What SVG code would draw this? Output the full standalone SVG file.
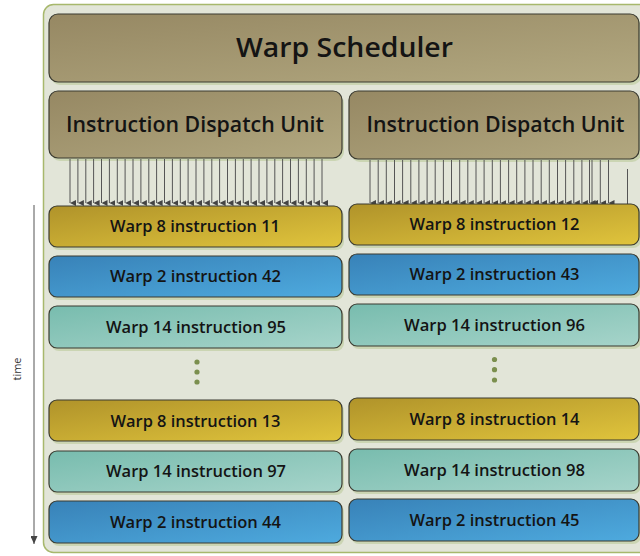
<svg xmlns="http://www.w3.org/2000/svg" width="640" height="556" viewBox="0 0 640 556">
<defs>
<linearGradient id="gBrown" x1="0" y1="0" x2="1" y2="1"><stop offset="0" stop-color="#968863"/><stop offset="1" stop-color="#b2a880"/></linearGradient>
<linearGradient id="gGold" x1="0" y1="0" x2="1" y2="1"><stop offset="0" stop-color="#b0932a"/><stop offset="1" stop-color="#e0c43c"/></linearGradient>
<linearGradient id="gBlue" x1="0" y1="0" x2="1" y2="1"><stop offset="0" stop-color="#3882b8"/><stop offset="1" stop-color="#4eaade"/></linearGradient>
<linearGradient id="gTeal" x1="0" y1="0" x2="1" y2="1"><stop offset="0" stop-color="#78bcae"/><stop offset="1" stop-color="#a6d4ca"/></linearGradient>
<marker id="ah" viewBox="0 0 6 6" refX="3" refY="6" markerWidth="6" markerHeight="6" markerUnits="userSpaceOnUse" orient="auto-start-reverse">
<path d="M0,0 L6,0 L3,6 Z" fill="#444"/>
</marker>
<marker id="ahOlive" viewBox="0 0 6 8" refX="3" refY="8" markerWidth="6" markerHeight="8" markerUnits="userSpaceOnUse">
<path d="M0,0 L6,0 L3,8 Z" fill="#a09030"/>
</marker>
<marker id="ahTime" viewBox="0 0 7 8" refX="3.5" refY="8" markerWidth="7" markerHeight="8" markerUnits="userSpaceOnUse">
<path d="M0,0 L7,0 L3.5,8 Z" fill="#444"/>
</marker>
</defs>
<style>
.box{stroke:#3a3a30;stroke-width:1.2}
.sh{fill:#b8c896;opacity:0.55}
.t{font-family:"Open Sans",Lato,"DejaVu Sans",sans-serif;font-weight:600;fill:#141414;text-anchor:middle}
.row{font-size:16.5px}
.idu{font-size:21px}
.dot{fill:#7b8f4e}
.arr line{stroke:#555;stroke-width:1}
</style>
<rect x="43.5" y="4.5" width="610" height="548" rx="10" fill="#e2e5d8" stroke="#a7b86c" stroke-width="1.5"/>

<g id="warp-scheduler">
<rect class="sh" x="51" y="17" width="590" height="68" rx="9"/>
<rect class="box" x="49" y="14" width="590" height="68" rx="9" fill="url(#gBrown)"/>
<text class="t" x="344.5" y="56.5" font-size="26.5" font-weight="700" textLength="217" lengthAdjust="spacingAndGlyphs">Warp Scheduler</text>
</g>

<g id="idu-left">
<rect class="sh" x="51" y="94" width="293" height="67" rx="9"/>
<rect class="box" x="49" y="91" width="293" height="67" rx="9" fill="url(#gBrown)"/>
<text class="t idu" x="195" y="132" textLength="258" lengthAdjust="spacingAndGlyphs">Instruction Dispatch Unit</text>
</g>
<g id="idu-right">
<rect class="sh" x="351" y="94" width="290" height="68" rx="9"/>
<rect class="box" x="349" y="91" width="290" height="68" rx="9" fill="url(#gBrown)"/>
<text class="t idu" x="495.5" y="132" textLength="258" lengthAdjust="spacingAndGlyphs">Instruction Dispatch Unit</text>
</g>

<g id="connectors" class="arr">
<line x1="70" y1="159" x2="70" y2="203" marker-end="url(#ah)"/>
<line x1="77.9" y1="159" x2="77.9" y2="203" marker-end="url(#ah)"/>
<line x1="85.8" y1="159" x2="85.8" y2="203" marker-end="url(#ah)"/>
<line x1="93.6" y1="159" x2="93.6" y2="203" marker-end="url(#ah)"/>
<line x1="101.5" y1="159" x2="101.5" y2="203" marker-end="url(#ah)"/>
<line x1="109.4" y1="159" x2="109.4" y2="203" marker-end="url(#ah)"/>
<line x1="117.3" y1="159" x2="117.3" y2="203" marker-end="url(#ah)"/>
<line x1="125.1" y1="159" x2="125.1" y2="203" marker-end="url(#ah)"/>
<line x1="133" y1="159" x2="133" y2="203" marker-end="url(#ah)"/>
<line x1="140.9" y1="159" x2="140.9" y2="203" marker-end="url(#ah)"/>
<line x1="148.8" y1="159" x2="148.8" y2="203" marker-end="url(#ah)"/>
<line x1="156.6" y1="159" x2="156.6" y2="203" marker-end="url(#ah)"/>
<line x1="164.5" y1="159" x2="164.5" y2="203" marker-end="url(#ah)"/>
<line x1="172.4" y1="159" x2="172.4" y2="203" marker-end="url(#ah)"/>
<line x1="180.3" y1="159" x2="180.3" y2="203" marker-end="url(#ah)"/>
<line x1="188.1" y1="159" x2="188.1" y2="203" marker-end="url(#ah)"/>
<line x1="196" y1="159" x2="196" y2="203" marker-end="url(#ah)"/>
<line x1="203.9" y1="159" x2="203.9" y2="203" marker-end="url(#ah)"/>
<line x1="211.8" y1="159" x2="211.8" y2="203" marker-end="url(#ah)"/>
<line x1="219.6" y1="159" x2="219.6" y2="203" marker-end="url(#ah)"/>
<line x1="227.5" y1="159" x2="227.5" y2="203" marker-end="url(#ah)"/>
<line x1="235.4" y1="159" x2="235.4" y2="203" marker-end="url(#ah)"/>
<line x1="243.3" y1="159" x2="243.3" y2="203" marker-end="url(#ah)"/>
<line x1="251.1" y1="159" x2="251.1" y2="203" marker-end="url(#ah)"/>
<line x1="259" y1="159" x2="259" y2="203" marker-end="url(#ah)"/>
<line x1="266.9" y1="159" x2="266.9" y2="203" marker-end="url(#ah)"/>
<line x1="274.8" y1="159" x2="274.8" y2="203" marker-end="url(#ah)"/>
<line x1="282.6" y1="159" x2="282.6" y2="203" marker-end="url(#ah)"/>
<line x1="290.5" y1="159" x2="290.5" y2="203" marker-end="url(#ah)"/>
<line x1="298.4" y1="159" x2="298.4" y2="203" marker-end="url(#ah)"/>
<line x1="306.3" y1="159" x2="306.3" y2="203" marker-end="url(#ah)"/>
<line x1="314.1" y1="159" x2="314.1" y2="203" marker-end="url(#ah)"/>
<line x1="322" y1="159" x2="322" y2="203" marker-end="url(#ah)"/>

<line x1="370" y1="160" x2="370" y2="203" marker-end="url(#ah)"/>
<line x1="378.2" y1="160" x2="378.2" y2="203" marker-end="url(#ah)"/>
<line x1="386.3" y1="160" x2="386.3" y2="203" marker-end="url(#ah)"/>
<line x1="394.5" y1="160" x2="394.5" y2="203" marker-end="url(#ah)"/>
<line x1="402.6" y1="160" x2="402.6" y2="203" marker-end="url(#ah)"/>
<line x1="410.8" y1="160" x2="410.8" y2="203" marker-end="url(#ah)"/>
<line x1="418.9" y1="160" x2="418.9" y2="203" marker-end="url(#ah)"/>
<line x1="427.1" y1="160" x2="427.1" y2="203" marker-end="url(#ah)"/>
<line x1="435.2" y1="160" x2="435.2" y2="203" marker-end="url(#ah)"/>
<line x1="443.4" y1="160" x2="443.4" y2="203" marker-end="url(#ah)"/>
<line x1="451.5" y1="160" x2="451.5" y2="203" marker-end="url(#ah)"/>
<line x1="459.7" y1="160" x2="459.7" y2="203" marker-end="url(#ah)"/>
<line x1="467.8" y1="160" x2="467.8" y2="203" marker-end="url(#ah)"/>
<line x1="476" y1="160" x2="476" y2="203" marker-end="url(#ah)"/>
<line x1="484.1" y1="160" x2="484.1" y2="203" marker-end="url(#ah)"/>
<line x1="492.3" y1="160" x2="492.3" y2="203" marker-end="url(#ah)"/>
<line x1="500.4" y1="160" x2="500.4" y2="203" marker-end="url(#ah)"/>
<line x1="508.6" y1="160" x2="508.6" y2="203" marker-end="url(#ah)"/>
<line x1="516.7" y1="160" x2="516.7" y2="203" marker-end="url(#ah)"/>
<line x1="524.9" y1="160" x2="524.9" y2="203" marker-end="url(#ah)"/>
<line x1="533" y1="160" x2="533" y2="203" marker-end="url(#ah)"/>
<line x1="541.2" y1="160" x2="541.2" y2="203" marker-end="url(#ah)"/>
<line x1="549.3" y1="160" x2="549.3" y2="203" marker-end="url(#ah)"/>
<line x1="557.5" y1="160" x2="557.5" y2="203" marker-end="url(#ah)"/>
<line x1="565.6" y1="160" x2="565.6" y2="203" marker-end="url(#ah)"/>
<line x1="573.8" y1="160" x2="573.8" y2="203" marker-end="url(#ah)"/>
<line x1="581.9" y1="160" x2="581.9" y2="203" marker-end="url(#ah)"/>
<line x1="589.5" y1="160" x2="589.5" y2="203" marker-end="url(#ah)"/>
<line x1="592" y1="160" x2="592" y2="203" marker-end="url(#ah)"/>
<line x1="600.3" y1="160" x2="600.3" y2="203" marker-end="url(#ah)"/>
<line x1="608.5" y1="160" x2="608.5" y2="203" marker-end="url(#ah)"/>
<line x1="627.5" y1="169" x2="627.5" y2="216" stroke="#6a6a50" marker-end="url(#ahOlive)"/>

<line x1="34" y1="205" x2="34" y2="544" stroke="#444" marker-end="url(#ahTime)"/>
</g>
<text x="21" y="369" transform="rotate(-90 21 369)" font-family="'Open Sans','DejaVu Sans',sans-serif" font-size="11" fill="#333" text-anchor="middle">time</text>

<!-- left column -->
<g id="l-w8-11"><rect class="sh" x="51" y="209" width="293" height="41" rx="8"/><rect class="box" x="49" y="206" width="293" height="41" rx="8" fill="url(#gGold)"/><text class="t row" x="195" y="232" textLength="170" lengthAdjust="spacingAndGlyphs">Warp 8 instruction 11</text></g>
<g id="l-w2-42"><rect class="sh" x="51" y="259" width="293" height="41" rx="8"/><rect class="box" x="49" y="256" width="293" height="41" rx="8" fill="url(#gBlue)"/><text class="t row" x="195.5" y="282" textLength="171" lengthAdjust="spacingAndGlyphs">Warp 2 instruction 42</text></g>
<g id="l-w14-95"><rect class="sh" x="51" y="309" width="293" height="42" rx="8"/><rect class="box" x="49" y="306" width="293" height="42" rx="8" fill="url(#gTeal)"/><text class="t row" x="196" y="332.5" textLength="180" lengthAdjust="spacingAndGlyphs">Warp 14 instruction 95</text></g>
<g id="l-dots"><circle class="dot" cx="197" cy="362" r="2.6"/><circle class="dot" cx="197" cy="372" r="2.6"/><circle class="dot" cx="197" cy="382" r="2.6"/></g>
<g id="l-w8-13"><rect class="sh" x="51" y="403" width="293" height="41" rx="8"/><rect class="box" x="49" y="400" width="293" height="41" rx="8" fill="url(#gGold)"/><text class="t row" x="195.5" y="426.5" textLength="170" lengthAdjust="spacingAndGlyphs">Warp 8 instruction 13</text></g>
<g id="l-w14-97"><rect class="sh" x="51" y="454" width="293" height="41" rx="8"/><rect class="box" x="49" y="451" width="293" height="41" rx="8" fill="url(#gTeal)"/><text class="t row" x="196" y="477" textLength="180" lengthAdjust="spacingAndGlyphs">Warp 14 instruction 97</text></g>
<g id="l-w2-44"><rect class="sh" x="51" y="504" width="293" height="42" rx="8"/><rect class="box" x="49" y="501" width="293" height="42" rx="8" fill="url(#gBlue)"/><text class="t row" x="195.5" y="527.5" textLength="171" lengthAdjust="spacingAndGlyphs">Warp 2 instruction 44</text></g>

<!-- right column -->
<g id="r-w8-12"><rect class="sh" x="351" y="207" width="290" height="41" rx="8"/><rect class="box" x="349" y="204" width="290" height="41" rx="8" fill="url(#gGold)"/><text class="t row" x="494.5" y="230" textLength="170" lengthAdjust="spacingAndGlyphs">Warp 8 instruction 12</text></g>
<g id="r-w2-43"><rect class="sh" x="351" y="257" width="290" height="41" rx="8"/><rect class="box" x="349" y="254" width="290" height="41" rx="8" fill="url(#gBlue)"/><text class="t row" x="494.5" y="280" textLength="170" lengthAdjust="spacingAndGlyphs">Warp 2 instruction 43</text></g>
<g id="r-w14-96"><rect class="sh" x="351" y="307" width="290" height="42" rx="8"/><rect class="box" x="349" y="304" width="290" height="42" rx="8" fill="url(#gTeal)"/><text class="t row" x="494.5" y="330.5" textLength="181" lengthAdjust="spacingAndGlyphs">Warp 14 instruction 96</text></g>
<g id="r-dots"><circle class="dot" cx="494.5" cy="359.5" r="2.6"/><circle class="dot" cx="494.5" cy="369.7" r="2.6"/><circle class="dot" cx="494.5" cy="380" r="2.6"/></g>
<g id="r-w8-14"><rect class="sh" x="351" y="401" width="290" height="42" rx="8"/><rect class="box" x="349" y="398" width="290" height="42" rx="8" fill="url(#gGold)"/><text class="t row" x="494.5" y="424.5" textLength="170" lengthAdjust="spacingAndGlyphs">Warp 8 instruction 14</text></g>
<g id="r-w14-98"><rect class="sh" x="351" y="452" width="290" height="42" rx="8"/><rect class="box" x="349" y="449" width="290" height="42" rx="8" fill="url(#gTeal)"/><text class="t row" x="494.5" y="475.5" textLength="181" lengthAdjust="spacingAndGlyphs">Warp 14 instruction 98</text></g>
<g id="r-w2-45"><rect class="sh" x="351" y="502" width="290" height="42" rx="8"/><rect class="box" x="349" y="499" width="290" height="42" rx="8" fill="url(#gBlue)"/><text class="t row" x="494.5" y="525.5" textLength="170" lengthAdjust="spacingAndGlyphs">Warp 2 instruction 45</text></g>
</svg>
